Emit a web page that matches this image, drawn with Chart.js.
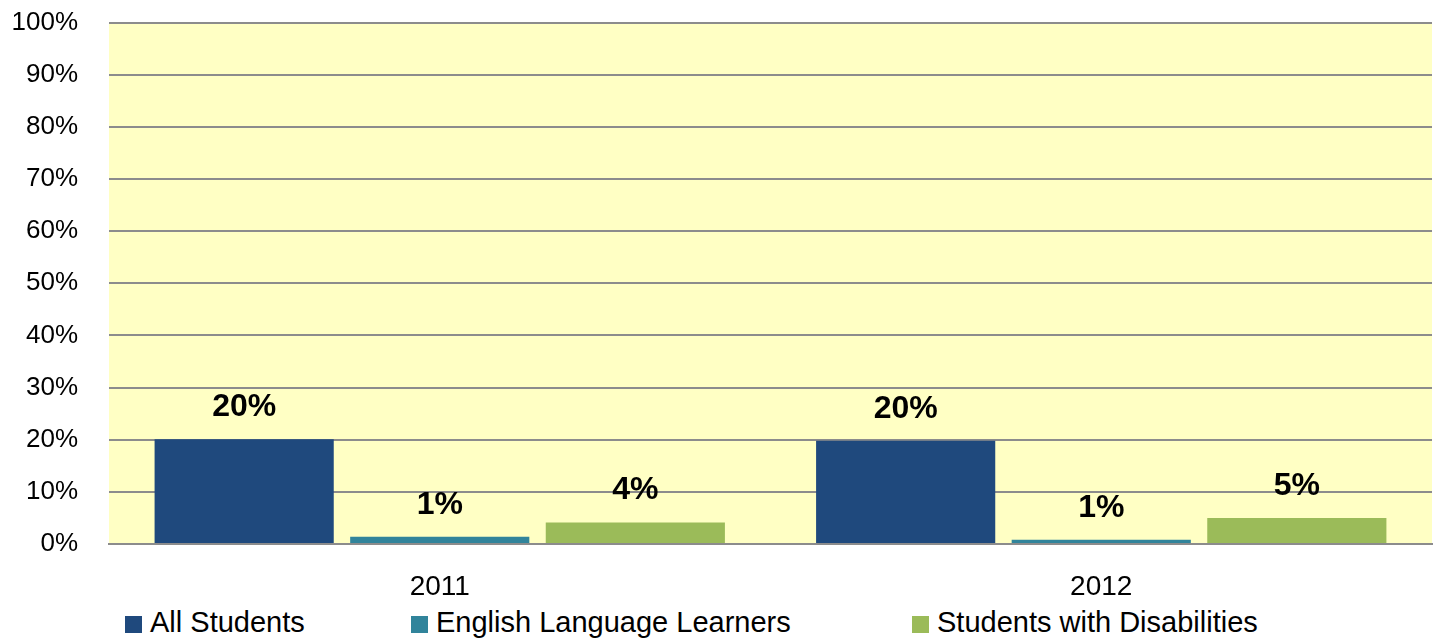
<!DOCTYPE html>
<html>
<head>
<meta charset="utf-8">
<script src="https://cdn.jsdelivr.net/npm/chart.js@4.4.1/dist/chart.umd.min.js"></script>
<style>
  html, body { margin: 0; padding: 0; background: #ffffff; overflow: hidden; }
  #wrap { position: relative; width: 1439px; height: 639px; overflow: hidden; }
  #box { position: absolute; left: 0; top: -24px; width: 1439px; height: 624px; }
  #legend { position: absolute; left: 0; top: 606px; width: 1439px; height: 32px;
            font-family: 'Liberation Sans', Arial, sans-serif; font-size: 29px; color: #000; }
  #legend .item { position: absolute; top: 0; white-space: nowrap; line-height: 32px; }
  #legend .sw { display: inline-block; width: 17px; height: 17px; margin-right: 8px; vertical-align: -1px; }
</style>
</head>
<body>
<div id="wrap">
  <div id="box"><canvas id="chart"></canvas></div>
  <div id="legend"></div>
</div>
<script>
// chart data
const categories = ["2011", "2012"];
const seriesNames = ["All Students", "English Language Learners", "Students with Disabilities"];
const allStudents = [20.1, 19.8];
const englishLearners = [1.4, 0.8];
const disabilities = [4.1, 5.0];
const shownLabels = [["20%", "20%"], ["1%", "1%"], ["4%", "5%"]];
const seriesColors = ["#1F497D", "#31849B", "#9BBB59"];
const legendLeft = [125, 411, 912];

const FONT = "'Liberation Sans', Arial, sans-serif";

// yellow plot area behind the grid
const plotBackground = {
  id: "plotBackground",
  beforeDraw(chart) {
    const { ctx, chartArea: a } = chart;
    ctx.save();
    ctx.fillStyle = "#FFFFC4";
    ctx.fillRect(a.left, a.top, a.right - a.left, a.bottom - a.top);
    ctx.restore();
  },
};

// bold value labels above each bar
const barLabels = {
  id: "barLabels",
  afterDatasetsDraw(chart) {
    const { ctx } = chart;
    ctx.save();
    ctx.font = "bold 32px " + FONT;
    ctx.fillStyle = "#000000";
    ctx.textAlign = "center";
    ctx.textBaseline = "middle";
    chart.data.datasets.forEach((ds, i) => {
      chart.getDatasetMeta(i).data.forEach((bar, j) => {
        ctx.fillText(shownLabels[i][j], bar.x, bar.y - 32);
      });
    });
    ctx.restore();
  },
};

new Chart(document.getElementById("chart").getContext("2d"), {
  type: "bar",
  data: {
    labels: categories,
    datasets: [allStudents, englishLearners, disabilities].map((d, i) => ({
      label: seriesNames[i],
      data: d,
      backgroundColor: seriesColors[i],
      borderWidth: 0,
      categoryPercentage: 0.887,
      barPercentage: 0.916,
    })),
  },
  options: {
    responsive: true,
    maintainAspectRatio: false,
    animation: false,
    layout: { padding: { top: 0, right: 7, left: 0, bottom: 0 } },
    plugins: {
      tooltip: { enabled: false },
      legend: { display: false },
    },
    scales: {
      x: {
        grid: { display: false, drawTicks: false },
        border: { display: true, color: "#8C8C8C", width: 2 },
        ticks: { font: { family: FONT, size: 28 }, color: "#000000", padding: 26 },
        afterFit: (s) => { s.height = 56; },
      },
      y: {
        min: 0,
        max: 100,
        ticks: {
          stepSize: 10,
          font: { family: FONT, size: 26 },
          color: "#000000",
          padding: 31,
          callback: (v) => v + "%",
        },
        grid: { color: "#8C8C8C", lineWidth: 2, drawTicks: false },
        border: { display: false },
        afterFit: (s) => { s.width = 109; },
      },
    },
  },
  plugins: [plotBackground, barLabels],
});

// legend row below the chart
const legend = document.getElementById("legend");
seriesNames.forEach((name, i) => {
  const item = document.createElement("div");
  item.className = "item";
  item.style.left = legendLeft[i] + "px";
  const sw = document.createElement("span");
  sw.className = "sw";
  sw.style.background = seriesColors[i];
  item.appendChild(sw);
  item.appendChild(document.createTextNode(name));
  legend.appendChild(item);
});
</script>
</body>
</html>
